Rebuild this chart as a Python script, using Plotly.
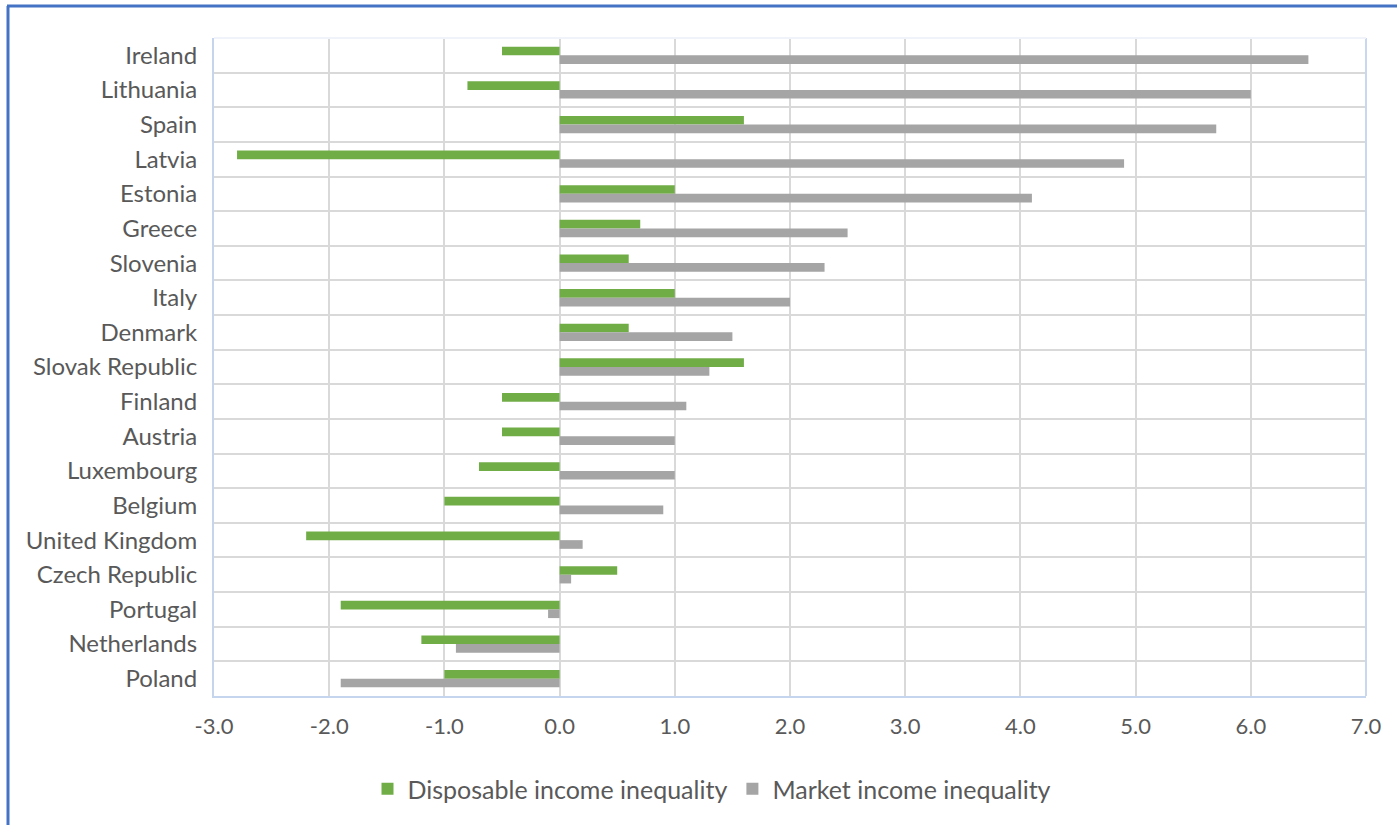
import plotly.graph_objects as go

countries = ["Ireland", "Lithuania", "Spain", "Latvia", "Estonia", "Greece", "Slovenia",
             "Italy", "Denmark", "Slovak Republic", "Finland", "Austria", "Luxembourg",
             "Belgium", "United Kingdom", "Czech Republic", "Portugal", "Netherlands", "Poland"]
disposable = [-0.5, -0.8, 1.6, -2.8, 1.0, 0.7, 0.6, 1.0, 0.6, 1.6, -0.5, -0.5, -0.7,
              -1.0, -2.2, 0.5, -1.9, -1.2, -1.0]
market = [6.5, 6.0, 5.7, 4.9, 4.1, 2.5, 2.3, 2.0, 1.5, 1.3, 1.1, 1.0, 1.0,
          0.9, 0.2, 0.1, -0.1, -0.9, -1.9]
x_ticks = [-3, -2, -1, 0, 1, 2, 3, 4, 5, 6, 7]
x_tick_labels = ["-3.0", "-2.0", "-1.0", "0.0", "1.0", "2.0", "3.0", "4.0", "5.0", "6.0", "7.0"]

FONT = "Lato"
TXT = "#595959"

fig = go.Figure()
fig.add_trace(go.Bar(y=countries, x=disposable, orientation="h", name="Disposable income inequality",
                     marker=dict(color="#70ad47", line=dict(width=0))))
fig.add_trace(go.Bar(y=countries, x=market, orientation="h", name="Market income inequality",
                     marker=dict(color="#a5a5a5", line=dict(width=0))))

W, H = 1397, 825
L, R, T, B = 214, 31, 38, 129
pw, ph = W - L - R, H - T - B

def px_x(p):
    return (p - L) / pw

def px_y(p):
    return (H - B - p) / ph

fig.update_layout(
    width=W, height=H,
    margin=dict(l=L, r=R, t=T, b=B),
    paper_bgcolor="white", plot_bgcolor="white",
    barmode="group", bargap=0.5, bargroupgap=0,
    font=dict(family=FONT, color=TXT, size=20),
    showlegend=True,
    legend=dict(orientation="h", x=px_x(712), xanchor="center", y=px_y(789), yanchor="middle",
                font=dict(family=FONT, size=25, color=TXT), traceorder="normal",
                itemwidth=30, entrywidth=0),
    xaxis=dict(range=[-3, 7], tickvals=x_ticks, ticktext=x_tick_labels, showgrid=True,
               gridcolor="#d9d9d9", gridwidth=1.5, zeroline=False,
               showline=True, linecolor="#c5d5ee", linewidth=2,
               tickfont=dict(family=FONT, size=22, color=TXT), ticklabelstandoff=10),
    yaxis=dict(type="category", categoryorder="array", categoryarray=countries,
               autorange="reversed", tickson="boundaries", showgrid=True,
               gridcolor="#d9d9d9", gridwidth=1.5, zeroline=False,
               showline=True, linecolor="#c5d5ee", linewidth=2, ticks="",
               tickfont=dict(family=FONT, size=24, color=TXT), ticklabelstandoff=10),
    shapes=[
        dict(type="line", xref="paper", yref="paper", x0=1, x1=1, y0=0, y1=1,
             line=dict(color="#c9d8f0", width=2)),
        dict(type="line", xref="paper", yref="paper", x0=0, x1=1, y0=1, y1=1,
             line=dict(color="#f0f3fa", width=2)),
        dict(type="line", xref="paper", yref="paper", x0=px_x(8), x1=px_x(8),
             y0=px_y(826), y1=px_y(6), line=dict(color="#4472c4", width=3)),
        dict(type="line", xref="paper", yref="paper", x0=px_x(7), x1=px_x(1398),
             y0=px_y(6), y1=px_y(6), line=dict(color="#4472c4", width=3)),
    ],
)

fig.write_html("out.html")
